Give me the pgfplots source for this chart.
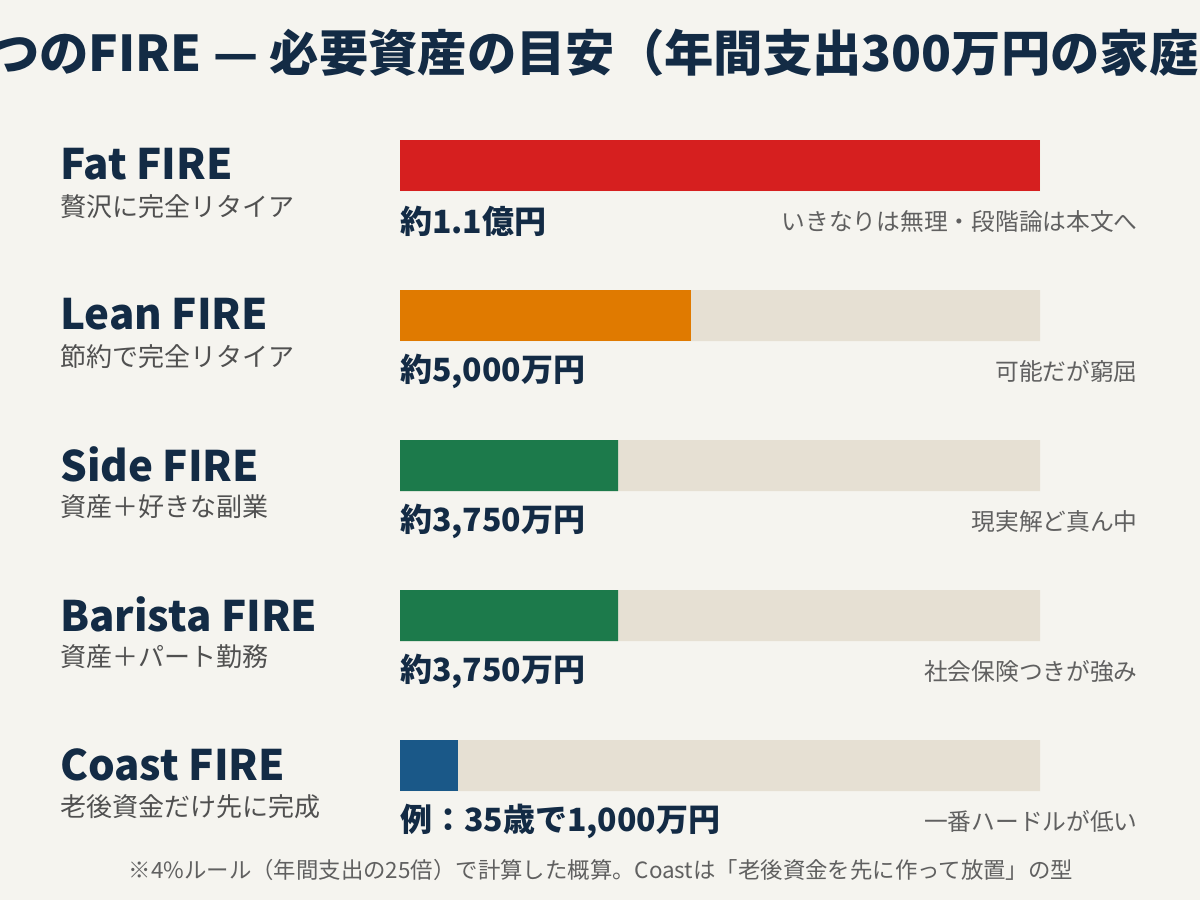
\documentclass[border=0pt]{standalone}
\usepackage{fontspec}
\setmainfont{Noto Sans CJK JP}
\usepackage{pgfplots}
\pgfplotsset{compat=1.18}
\definecolor{bg}{HTML}{F5F4EF}
\definecolor{navy}{HTML}{132B45}
\definecolor{track}{HTML}{E6E0D3}
\definecolor{cred}{HTML}{D61F1F}
\definecolor{corange}{HTML}{E07A00}
\definecolor{cgreen}{HTML}{1C7A4B}
\definecolor{cblue}{HTML}{1A5888}
\definecolor{gsub}{HTML}{505050}
\definecolor{gnote}{HTML}{606060}
\tikzset{
  rowname/.style={font=\bfseries\fontsize{31.5}{36}\selectfont, text=navy, anchor=west, inner sep=0pt, yshift=0.75pt},
  rowsub/.style={font=\fontsize{19.5}{22}\selectfont, text=gsub, anchor=west, inner sep=0pt, yshift=-30.75pt},
  rowval/.style={font=\bfseries\fontsize{24}{27}\selectfont, text=navy, anchor=west, inner sep=0pt, yshift=-42pt},
  rownote/.style={font=\fontsize{17.8}{21}\selectfont, text=gnote, anchor=east, inner sep=0pt, yshift=-42pt},
}
\begin{document}
\begin{tikzpicture}
\useasboundingbox (0pt,0pt) rectangle (900pt,-675pt);
\fill[bg] (0pt,0pt) rectangle (900pt,-675pt);
\node[font=\bfseries\fontsize{37}{42}\selectfont, text=navy, inner sep=0pt] at (453pt,-39.75pt) {5つのFIRE — 必要資産の目安（年間支出300万円の家庭）};
\node[font=\fontsize{16.8}{20}\selectfont, text=gnote, inner sep=0pt] at (450.75pt,-652.5pt) {※4\%ルール（年間支出の25倍）で計算した概算。Coastは「老後資金を先に作って放置」の型};
\begin{axis}[
  at={(300pt,-67.875pt)}, anchor=north west,
  scale only axis, width=480pt, height=562.5pt,
  xmin=0, xmax=11000, ymin=-0.5, ymax=4.5, y dir=reverse,
  axis lines=none, clip=false,
  every axis plot/.append style={xbar, bar width=38.25pt, bar shift=0pt, draw=none},
]
\addplot[fill=track] coordinates {(11000,0) (11000,1) (11000,2) (11000,3) (11000,4)};
\addplot[fill=cred] coordinates {(11000,0)};
\addplot[fill=corange] coordinates {(5000,1)};
\addplot[fill=cgreen] coordinates {(3750,2) (3750,3)};
\addplot[fill=cblue] coordinates {(1000,4)};
% row 0
\node[rowname] at (axis cs:-5843.75,0) {Fat FIRE};
\node[rowsub] at (axis cs:-5843.75,0) {贅沢に完全リタイア};
\node[rowval] at (axis cs:0,0) {約1.1億円};
\node[rownote] at (axis cs:12684,0) {いきなりは無理・段階論は本文へ};
% row 1
\node[rowname] at (axis cs:-5843.75,1) {Lean FIRE};
\node[rowsub] at (axis cs:-5843.75,1) {節約で完全リタイア};
\node[rowval] at (axis cs:0,1) {約5,000万円};
\node[rownote] at (axis cs:12684,1) {可能だが窮屈};
% row 2
\node[rowname] at (axis cs:-5843.75,2) {Side FIRE};
\node[rowsub] at (axis cs:-5843.75,2) {資産＋好きな副業};
\node[rowval] at (axis cs:0,2) {約3,750万円};
\node[rownote] at (axis cs:12684,2) {現実解ど真ん中};
% row 3
\node[rowname] at (axis cs:-5843.75,3) {Barista FIRE};
\node[rowsub] at (axis cs:-5843.75,3) {資産＋パート勤務};
\node[rowval] at (axis cs:0,3) {約3,750万円};
\node[rownote] at (axis cs:12684,3) {社会保険つきが強み};
% row 4
\node[rowname] at (axis cs:-5843.75,4) {Coast FIRE};
\node[rowsub] at (axis cs:-5843.75,4) {老後資金だけ先に完成};
\node[rowval] at (axis cs:0,4) {例：35歳で1,000万円};
\node[rownote] at (axis cs:12684,4) {一番ハードルが低い};
\end{axis}
\end{tikzpicture}
\end{document}
